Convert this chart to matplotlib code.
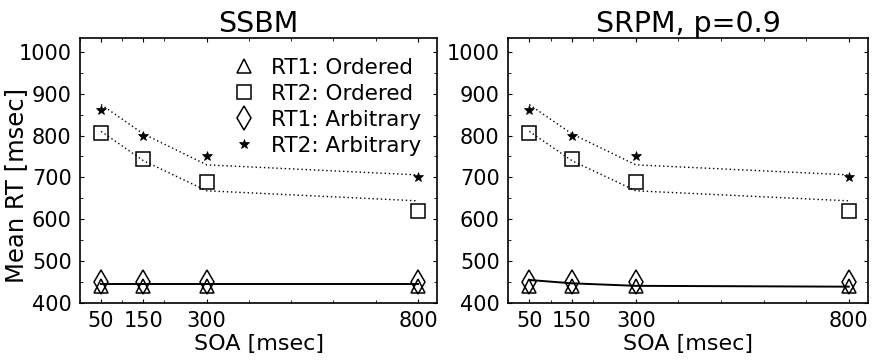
import matplotlib
matplotlib.use('Agg')
import matplotlib.pyplot as plt
from matplotlib.ticker import MultipleLocator

soa = [50, 150, 300, 800]

# SSBM panel
ssbm_rt1_ord = [440, 440, 440, 440]
ssbm_rt2_ord = [805, 745, 690, 620]
ssbm_rt1_arb = [450, 450, 450, 450]
ssbm_rt2_arb = [860, 800, 750, 700]
ssbm_model_rt1 = [446, 446, 446, 446]
ssbm_model_rt2_ord = [810, 740, 668, 644]
ssbm_model_rt2_arb = [874, 804, 730, 706]

# SRPM, p=0.9 panel
srpm_rt1_ord = [440, 440, 440, 440]
srpm_rt2_ord = [805, 745, 690, 620]
srpm_rt1_arb = [450, 450, 450, 450]
srpm_rt2_arb = [860, 800, 750, 700]
srpm_model_rt1 = [455, 447, 441, 439]
srpm_model_rt2_ord = [810, 740, 668, 644]
srpm_model_rt2_arb = [874, 804, 730, 706]

titles = ['SSBM', 'SRPM, p=0.9']
labels = ['RT1: Ordered', 'RT2: Ordered', 'RT1: Arbitrary', 'RT2: Arbitrary']

plt.rcParams['font.family'] = ['DejaVu Sans']

fig = plt.figure(figsize=(8.74, 3.6), dpi=100)
ax1 = fig.add_axes([80 / 874, 57 / 360, 357 / 874, 265 / 360])
ax2 = fig.add_axes([508 / 874, 57 / 360, 360 / 874, 265 / 360])

panels = [
    (ax1, ssbm_rt1_ord, ssbm_rt2_ord, ssbm_rt1_arb, ssbm_rt2_arb,
     ssbm_model_rt1, ssbm_model_rt2_ord, ssbm_model_rt2_arb),
    (ax2, srpm_rt1_ord, srpm_rt2_ord, srpm_rt1_arb, srpm_rt2_arb,
     srpm_model_rt1, srpm_model_rt2_ord, srpm_model_rt2_arb),
]

for i, (ax, r1o, r2o, r1a, r2a, m1, m2o, m2a) in enumerate(panels):
    ax.plot(soa, m1, color='black', lw=1.4, zorder=2)
    ax.plot(soa, m2o, color='black', lw=1.0, ls=(0, (1, 2)), zorder=2)
    ax.plot(soa, m2a, color='black', lw=1.0, ls=(0, (1, 2)), zorder=2)
    h1 = ax.plot(soa, r1o, ls='none', marker='^', ms=10, mfc='none', mec='black', mew=1.1, label=labels[0])[0]
    h2 = ax.plot(soa, r2o, ls='none', marker='s', ms=9.5, mfc='none', mec='black', mew=1.1, label=labels[1])[0]
    h3 = ax.plot(soa, r1a, ls='none', marker='d', ms=12, mfc='none', mec='black', mew=1.1, label=labels[2])[0]
    h4 = ax.plot(soa, r2a, ls='none', marker='*', ms=7.5, mfc='black', mec='black', mew=0.5, label=labels[3])[0]

    ax.set_xlim(0, 845)
    ax.set_ylim(400, 1033)
    ax.set_xticks(soa)
    ax.set_yticks(range(400, 1001, 100))
    ax.xaxis.set_minor_locator(MultipleLocator(100))
    ax.yaxis.set_minor_locator(MultipleLocator(50))
    ax.tick_params(which='both', direction='in', top=True, right=True, labelsize=15)
    ax.tick_params(which='major', length=3, width=0.8, pad=6)
    ax.tick_params(which='minor', length=2, width=0.6)
    for s in ax.spines.values():
        s.set_linewidth(1.2)
    ax.set_xlabel('SOA [msec]', fontsize=16, labelpad=2)
    ax.set_title(titles[i], fontsize=20.5, pad=4)

    if i == 0:
        ax.set_ylabel('Mean RT [msec]', fontsize=17.5)
        ax.yaxis.set_label_coords(-0.146, 0.445)
        ax.legend(handles=[h1, h2, h3, h4], loc='upper right',
                  bbox_to_anchor=(0.955, 0.925), frameon=False,
                  fontsize=15.5, handlelength=1.0, handletextpad=0.75,
                  labelspacing=0.28, borderaxespad=0, borderpad=0)

fig.savefig('out.png', dpi=100)
